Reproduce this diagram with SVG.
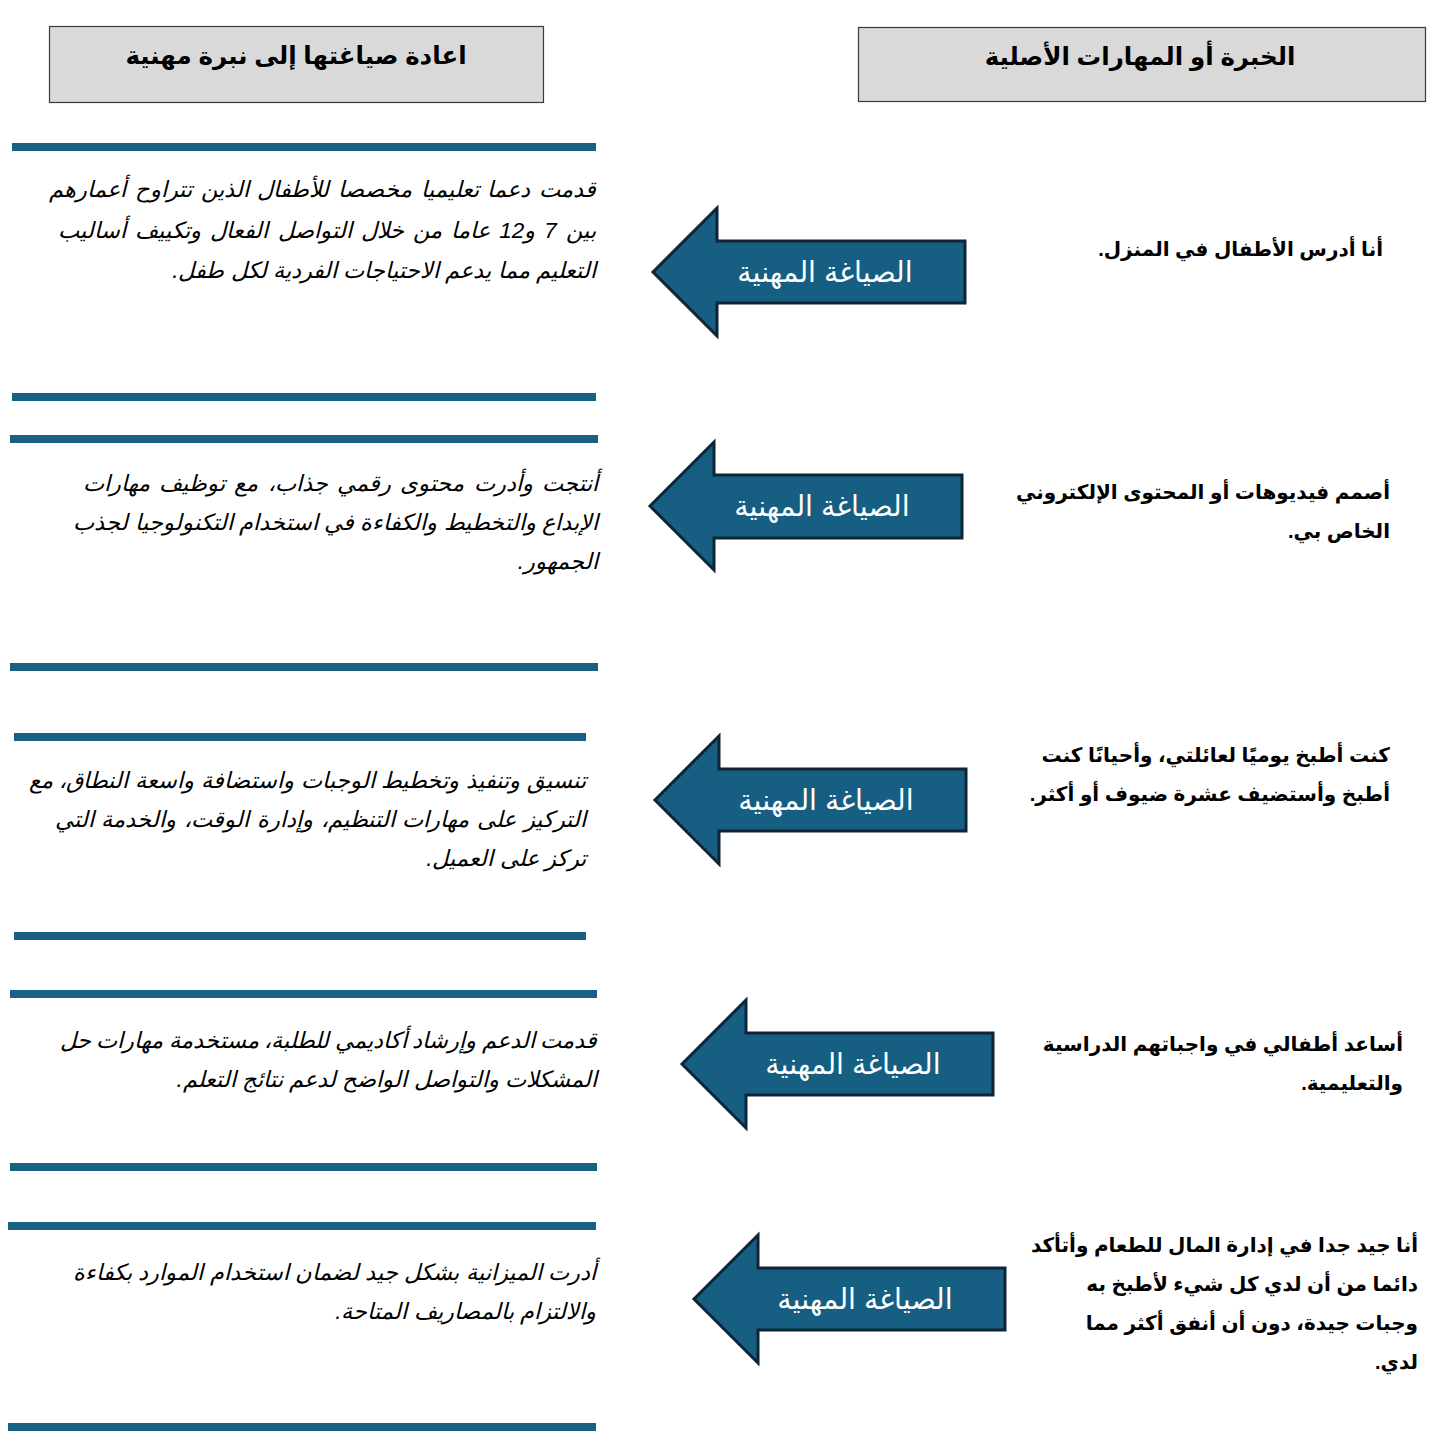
<svg xmlns="http://www.w3.org/2000/svg" width="1449" height="1448" viewBox="0 0 1449 1448">
<style>
.hdr{fill:#d9d9d9;stroke:#3a3a3a;stroke-width:1.2}
.ht{font-family:"Liberation Sans","DejaVu Sans",sans-serif;font-weight:bold;font-size:24.5px;fill:#000;text-anchor:middle}
.arr{fill:#175f82;stroke:#0d2536;stroke-width:3;stroke-linejoin:miter}
.al{font-family:"Liberation Sans","DejaVu Sans",sans-serif;font-size:28.5px;fill:#fff;text-anchor:middle}
.bar{fill:#186183}
.rt{font-family:"Liberation Sans","DejaVu Sans",sans-serif;font-weight:bold;font-size:20px;fill:#000;direction:rtl;text-anchor:start}
.lt{font-family:"Liberation Sans","DejaVu Sans",sans-serif;font-style:italic;font-size:22.5px;fill:#000;direction:rtl;text-anchor:start}
</style>
<rect width="1449" height="1448" fill="#fff"/>

<g id="header-left">
<rect class="hdr" x="49.5" y="26.5" width="494" height="76"/>
<text class="ht" x="296" y="64">اعادة صياغتها إلى نبرة مهنية</text>
</g>
<g id="header-right">
<rect class="hdr" x="858.5" y="27.5" width="567" height="74"/>
<text class="ht" x="1140" y="65">الخبرة أو المهارات الأصلية</text>
</g>

<g id="separators">
<rect class="bar" x="12" y="143" width="584" height="8"/>
<rect class="bar" x="12" y="393" width="584" height="8"/>
<rect class="bar" x="10" y="435" width="588" height="8"/>
<rect class="bar" x="10" y="663" width="588" height="8"/>
<rect class="bar" x="14" y="733" width="572" height="8"/>
<rect class="bar" x="14" y="932" width="572" height="8"/>
<rect class="bar" x="10" y="990" width="587" height="8"/>
<rect class="bar" x="10" y="1163" width="587" height="8"/>
<rect class="bar" x="8" y="1222" width="588" height="8"/>
<rect class="bar" x="8" y="1423" width="588" height="8"/>
</g>

<g id="connectors">
<g id="arrow1">
<polygon class="arr" points="653,272 717,208 717,241 965,241 965,303 717,303 717,336"/>
<text class="al" x="825" y="282">الصياغة المهنية</text>
</g>
<g id="arrow2">
<polygon class="arr" points="650,506 714,442 714,475 962,475 962,538 714,538 714,570"/>
<text class="al" x="822" y="516">الصياغة المهنية</text>
</g>
<g id="arrow3">
<polygon class="arr" points="655,800 719,736 719,769 966,769 966,831 719,831 719,864"/>
<text class="al" x="826" y="810">الصياغة المهنية</text>
</g>
<g id="arrow4">
<polygon class="arr" points="682,1064 746,1000 746,1033 993,1033 993,1095 746,1095 746,1128"/>
<text class="al" x="853" y="1074">الصياغة المهنية</text>
</g>
<g id="arrow5">
<polygon class="arr" points="694,1299 758,1235 758,1268 1005,1268 1005,1330 758,1330 758,1363"/>
<text class="al" x="865" y="1309">الصياغة المهنية</text>
</g>
</g>

<g id="original-1">
<text class="rt" x="1383" y="256">أنا أدرس الأطفال في المنزل.</text>
</g>
<g id="original-2">
<text class="rt" x="1390" y="499">أصمم فيديوهات أو المحتوى الإلكتروني</text>
<text class="rt" x="1390" y="538">الخاص بي.</text>
</g>
<g id="original-3">
<text class="rt" x="1390" y="762">كنت أطبخ يوميًا لعائلتي، وأحيانًا كنت</text>
<text class="rt" x="1390" y="801">أطبخ وأستضيف عشرة ضيوف أو أكثر.</text>
</g>
<g id="original-4">
<text class="rt" x="1403" y="1051">أساعد أطفالي في واجباتهم الدراسية</text>
<text class="rt" x="1403" y="1090">والتعليمية.</text>
</g>
<g id="original-5">
<text class="rt" x="1418" y="1252">أنا جيد جدا في إدارة المال للطعام وأتأكد</text>
<text class="rt" x="1418" y="1291">دائما من أن لدي كل شيء لأطبخ به</text>
<text class="rt" x="1418" y="1330">وجبات جيدة، دون أن أنفق أكثر مما</text>
<text class="rt" x="1418" y="1369">لدي.</text>
</g>

<g id="rephrased-1">
<text class="lt" x="596" y="197" style="word-spacing:2.4px">قدمت دعما تعليميا مخصصا للأطفال الذين تتراوح أعمارهم</text>
<text class="lt" x="596" y="238" style="word-spacing:2.9px">بين 7 و12 عاما من خلال التواصل الفعال وتكييف أساليب</text>
<text class="lt" x="596" y="278">التعليم مما يدعم الاحتياجات الفردية لكل طفل.</text>
</g>
<g id="rephrased-2">
<text class="lt" x="598" y="491" style="word-spacing:3.1px">أنتجت وأدرت محتوى رقمي جذاب، مع توظيف مهارات</text>
<text class="lt" x="598" y="530">الإبداع والتخطيط والكفاءة في استخدام التكنولوجيا لجذب</text>
<text class="lt" x="598" y="569">الجمهور.</text>
</g>
<g id="rephrased-3">
<text class="lt" x="586" y="788" style="word-spacing:0.5px">تنسيق وتنفيذ وتخطيط الوجبات واستضافة واسعة النطاق، مع</text>
<text class="lt" x="586" y="827" style="word-spacing:1.5px">التركيز على مهارات التنظيم، وإدارة الوقت، والخدمة التي</text>
<text class="lt" x="586" y="866">تركز على العميل.</text>
</g>
<g id="rephrased-4">
<text class="lt" x="597" y="1048" style="word-spacing:-0.8px">قدمت الدعم وإرشاد أكاديمي للطلبة، مستخدمة مهارات حل</text>
<text class="lt" x="597" y="1087">المشكلات والتواصل الواضح لدعم نتائج التعلم.</text>
</g>
<g id="rephrased-5">
<text class="lt" x="596" y="1280">أدرت الميزانية بشكل جيد لضمان استخدام الموارد بكفاءة</text>
<text class="lt" x="596" y="1319">والالتزام بالمصاريف المتاحة.</text>
</g>
</svg>
